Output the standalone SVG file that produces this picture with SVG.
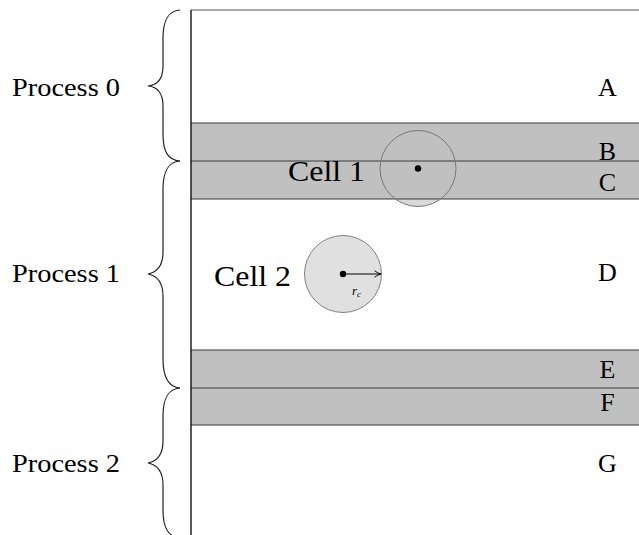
<svg xmlns="http://www.w3.org/2000/svg" width="639" height="535" viewBox="0 0 639 535">
<style>
.proc{font-size:26px}
.lab{font-size:26px;text-anchor:middle}
.cell{font-size:30px}
.band{fill:#c0c0c0;stroke:none}
.bline{stroke:#3a3a3a;stroke-width:1.2;fill:none}
.brace{fill:none;stroke:#222;stroke-width:1.2}
</style>
<defs>
<marker id="arr" viewBox="0 0 10 10" refX="9" refY="5" markerWidth="8" markerHeight="8" markerUnits="userSpaceOnUse" orient="auto">
<path d="M1,1 Q5,4 9,5 Q5,6 1,9" fill="none" stroke="#000" stroke-width="1.2"/>
</marker>
</defs>
<rect width="639" height="535" fill="#fff"/>
<circle cx="418" cy="168.5" r="38" fill="#d9d9d9"/>
<g id="bands">
<g id="band-B"><rect class="band" x="191" y="123" width="448" height="38"/></g>
<g id="band-C"><rect class="band" x="191" y="161" width="448" height="38"/></g>
<g id="band-E"><rect class="band" x="191" y="350" width="448" height="38"/></g>
<g id="band-F"><rect class="band" x="191" y="388" width="448" height="37"/></g>
<path class="bline" d="M191,123H639M191,161H639M191,199H639M191,350H639M191,388H639M191,425H639"/>
</g>
<g id="frame">
<path d="M191,10H639" stroke="#555" stroke-width="1"/>
<path d="M191,10V535" stroke="#000" stroke-width="1.3"/>
</g>
<g font-family="'Liberation Serif', 'Times New Roman', serif" fill="#000">
<g id="cell1">
<circle cx="418" cy="168.5" r="38" fill="none" stroke="#777" stroke-width="1"/>
<circle cx="418" cy="168.5" r="3.2" fill="#000"/>
<text class="cell" x="288" y="180.5" textLength="77" lengthAdjust="spacingAndGlyphs">Cell 1</text>
</g>
<g id="cell2">
<circle cx="343" cy="274" r="38.5" fill="#e0e0e0" stroke="#808080" stroke-width="1"/>
<circle cx="343" cy="274" r="3.2" fill="#000"/>
<text class="cell" x="214" y="286" textLength="77" lengthAdjust="spacingAndGlyphs">Cell 2</text>
<text x="352" y="295" font-size="13" font-style="italic">r<tspan font-size="9" dy="2">c</tspan></text>
</g>
<g id="labels">
<text class="lab" x="607.5" y="96">A</text>
<text class="lab" x="607.5" y="159.5">B</text>
<text class="lab" x="607.5" y="191">C</text>
<text class="lab" x="607.5" y="281">D</text>
<text class="lab" x="607.5" y="377.5">E</text>
<text class="lab" x="607.5" y="410.5">F</text>
<text class="lab" x="607.5" y="472">G</text>
</g>
<g id="process0"><text class="proc" x="12" y="96" textLength="108" lengthAdjust="spacingAndGlyphs">Process 0</text></g>
<g id="process1"><text class="proc" x="12" y="282" textLength="108" lengthAdjust="spacingAndGlyphs">Process 1</text></g>
<g id="process2"><text class="proc" x="12" y="472" textLength="108" lengthAdjust="spacingAndGlyphs">Process 2</text></g>
</g>
<g id="connectors">
<path class="brace" d="M180,10 C168,11 163,20 163,38 L163,66 C163,78 158,85 148,86 C158,87 163,94 163,106 L163,134 C163,152 168,160 180,161"/>
<path class="brace" d="M180,161 C168,162 163,171 163,189 L163,252 C163,265 158,272 148,274 C158,276 163,283 163,296 L163,359 C163,377 168,387 180,388"/>
<path class="brace" d="M180,388 C168,389 163,398 163,416 L163,441 C163,454 158,461 148,463 C158,465 163,472 163,485 L163,510 C163,528 168,537 180,538"/>
<path d="M343,274H381" stroke="#000" stroke-width="1.1" marker-end="url(#arr)"/>
</g>
</svg>
